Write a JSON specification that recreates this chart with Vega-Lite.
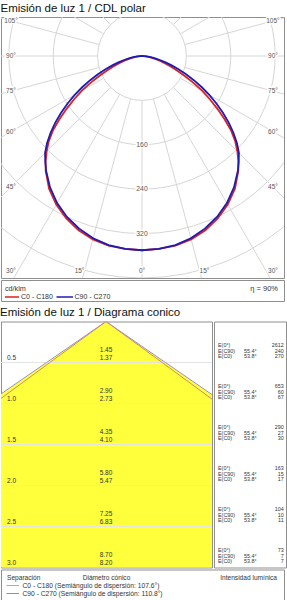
{
  "$schema": "https://vega.github.io/schema/vega-lite/v6.json",
  "background": "white",
  "padding": {"left": 0, "right": 0, "top": 2, "bottom": 0},
  "spacing": 4.5,
  "config": {
    "font": "Liberation Sans",
    "view": {"stroke": "#8f8f8f", "strokeWidth": 1},
    "title": {"fontSize": 11.5, "fontWeight": "normal", "anchor": "start", "offset": 2.5, "color": "#111111", "font": "Liberation Sans"},
    "style": {"group-title": {"fontWeight": "normal", "fontSize": 11.5}},
    "text": {"font": "Liberation Sans"}
  },
  "resolve": {"scale": {"x": "independent", "y": "independent"}},
  "datasets": {
    "rings": [{"r": 80}, {"r": 160}, {"r": 240}, {"r": 320}, {"r": 400}],
    "rays": [
      {"a": -165}, {"a": -150}, {"a": -135}, {"a": -120}, {"a": -105}, {"a": -90},
      {"a": -75}, {"a": -60}, {"a": -45}, {"a": -30}, {"a": -15}, {"a": 0},
      {"a": 15}, {"a": 30}, {"a": 45}, {"a": 60}, {"a": 75}, {"a": 90},
      {"a": 105}, {"a": 120}, {"a": 135}, {"a": 150}, {"a": 165}, {"a": 180}
    ],
    "angleLabels": [
      {"a": -105, "t": "105°"}, {"a": -90, "t": "90°"}, {"a": -75, "t": "75°"},
      {"a": -60, "t": "60°"}, {"a": -45, "t": "45°"}, {"a": -30, "t": "30°"},
      {"a": -15, "t": "15°"}, {"a": 0, "t": "0°"}, {"a": 15, "t": "15°"},
      {"a": 30, "t": "30°"}, {"a": 45, "t": "45°"}, {"a": 60, "t": "60°"},
      {"a": 75, "t": "75°"}, {"a": 90, "t": "90°"}, {"a": 105, "t": "105°"}
    ],
    "intensity": [
      {"g": -90, "c0": 0, "c90": 0},
      {"g": -87.5, "c0": 3, "c90": 4.5},
      {"g": -85, "c0": 6, "c90": 9},
      {"g": -82.5, "c0": 11, "c90": 16},
      {"g": -80, "c0": 17, "c90": 24},
      {"g": -77.5, "c0": 24, "c90": 33},
      {"g": -75, "c0": 33, "c90": 44},
      {"g": -72.5, "c0": 43, "c90": 56},
      {"g": -70, "c0": 55, "c90": 70},
      {"g": -67.5, "c0": 69, "c90": 86},
      {"g": -65, "c0": 85, "c90": 103},
      {"g": -62.5, "c0": 104, "c90": 121},
      {"g": -60, "c0": 125, "c90": 140},
      {"g": -57.5, "c0": 145, "c90": 159},
      {"g": -55, "c0": 166, "c90": 178},
      {"g": -52.5, "c0": 188, "c90": 197},
      {"g": -50, "c0": 210, "c90": 215},
      {"g": -47.5, "c0": 228, "c90": 232},
      {"g": -45, "c0": 243, "c90": 247},
      {"g": -42.5, "c0": 257, "c90": 258},
      {"g": -40, "c0": 270, "c90": 269},
      {"g": -35, "c0": 292, "c90": 289},
      {"g": -30, "c0": 309, "c90": 306},
      {"g": -25, "c0": 323, "c90": 320},
      {"g": -20, "c0": 334, "c90": 331},
      {"g": -15, "c0": 342, "c90": 340},
      {"g": -10, "c0": 347, "c90": 346},
      {"g": -5, "c0": 349, "c90": 349},
      {"g": 0, "c0": 350, "c90": 350},
      {"g": 5, "c0": 349, "c90": 349},
      {"g": 10, "c0": 347, "c90": 346},
      {"g": 15, "c0": 342, "c90": 340},
      {"g": 20, "c0": 334, "c90": 331},
      {"g": 25, "c0": 323, "c90": 320},
      {"g": 30, "c0": 309, "c90": 306},
      {"g": 35, "c0": 292, "c90": 289},
      {"g": 40, "c0": 270, "c90": 269},
      {"g": 42.5, "c0": 257, "c90": 258},
      {"g": 45, "c0": 243, "c90": 247},
      {"g": 47.5, "c0": 228, "c90": 232},
      {"g": 50, "c0": 210, "c90": 215},
      {"g": 52.5, "c0": 188, "c90": 197},
      {"g": 55, "c0": 166, "c90": 178},
      {"g": 57.5, "c0": 145, "c90": 159},
      {"g": 60, "c0": 125, "c90": 140},
      {"g": 62.5, "c0": 104, "c90": 121},
      {"g": 65, "c0": 85, "c90": 103},
      {"g": 67.5, "c0": 69, "c90": 86},
      {"g": 70, "c0": 55, "c90": 70},
      {"g": 72.5, "c0": 43, "c90": 56},
      {"g": 75, "c0": 33, "c90": 44},
      {"g": 77.5, "c0": 24, "c90": 33},
      {"g": 80, "c0": 17, "c90": 24},
      {"g": 82.5, "c0": 11, "c90": 16},
      {"g": 85, "c0": 6, "c90": 9},
      {"g": 87.5, "c0": 3, "c90": 4.5},
      {"g": 90, "c0": 0, "c90": 0}
    ],
    "cone": [
      {"h": 0, "d90": 0, "d0": 0},
      {"h": 0.5, "d90": 1.45, "d0": 1.37},
      {"h": 1, "d90": 2.90, "d0": 2.73},
      {"h": 1.5, "d90": 4.35, "d0": 4.10},
      {"h": 2, "d90": 5.80, "d0": 5.47},
      {"h": 2.5, "d90": 7.25, "d0": 6.83},
      {"h": 3, "d90": 8.70, "d0": 8.20}
    ],
    "illum": [
      {"h": 0.5, "e0": 2612, "e90": 240, "ec0": 270, "a90": 55.4, "a0": 53.8},
      {"h": 1, "e0": 653, "e90": 60, "ec0": 67, "a90": 55.4, "a0": 53.8},
      {"h": 1.5, "e0": 290, "e90": 27, "ec0": 30, "a90": 55.4, "a0": 53.8},
      {"h": 2, "e0": 163, "e90": 15, "ec0": 17, "a90": 55.4, "a0": 53.8},
      {"h": 2.5, "e0": 104, "e90": 10, "ec0": 11, "a90": 55.4, "a0": 53.8},
      {"h": 3, "e0": 73, "e90": 7, "ec0": 7, "a90": 55.4, "a0": 53.8}
    ]
  },
  "vconcat": [
    {
      "title": {"text": "Emisión de luz 1 / CDL polar", "fontWeight": "normal"},
      "spacing": 0,
      "resolve": {"scale": {"x": "independent", "y": "independent"}},
      "vconcat": [
        {
          "width": 283,
          "height": 261,
          "layer": [
            {
              "data": {"name": "rings"},
              "mark": {"type": "point", "shape": "circle", "filled": false, "stroke": "#d6d6d6", "strokeWidth": 1, "opacity": 1, "clip": true},
              "encoding": {
                "x": {"datum": 0, "type": "quantitative", "scale": {"domain": [-254.1, 255.9], "nice": false, "zero": false}, "axis": null},
                "y": {"datum": 0, "type": "quantitative", "scale": {"domain": [-400, 70.3], "nice": false, "zero": false}, "axis": null},
                "size": {"field": "r", "type": "quantitative", "scale": {"type": "pow", "exponent": 2, "domain": [0, 400], "range": [0, 197136], "nice": false}, "legend": null}
              }
            },
            {
              "data": {"name": "rays"},
              "transform": [
                {"calculate": "80*sin(datum.a*PI/180)", "as": "xa"},
                {"calculate": "-80*cos(datum.a*PI/180)", "as": "ya"},
                {"calculate": "700*sin(datum.a*PI/180)", "as": "xb"},
                {"calculate": "-700*cos(datum.a*PI/180)", "as": "yb"}
              ],
              "mark": {"type": "rule", "stroke": "#d6d6d6", "strokeWidth": 1, "clip": true},
              "encoding": {
                "x": {"field": "xa", "type": "quantitative"},
                "y": {"field": "ya", "type": "quantitative"},
                "x2": {"field": "xb"},
                "y2": {"field": "yb"}
              }
            },
            {
              "data": {"name": "rings"},
              "transform": [
                {"filter": "datum.r >= 160 && datum.r <= 320"},
                {"calculate": "-datum.r", "as": "ly"}
              ],
              "mark": {"type": "text", "fontSize": 6.8, "stroke": "white", "strokeWidth": 3, "color": "white"},
              "encoding": {
                "x": {"datum": 0, "type": "quantitative"},
                "y": {"field": "ly", "type": "quantitative"},
                "text": {"field": "r"}
              }
            },
            {
              "data": {"name": "rings"},
              "transform": [
                {"filter": "datum.r >= 160 && datum.r <= 320"},
                {"calculate": "-datum.r", "as": "ly"}
              ],
              "mark": {"type": "text", "fontSize": 6.8, "color": "#555555"},
              "encoding": {
                "x": {"datum": 0, "type": "quantitative"},
                "y": {"field": "ly", "type": "quantitative"},
                "text": {"field": "r"}
              }
            },
            {
              "data": {"name": "angleLabels"},
              "transform": [
                {"calculate": "abs(datum.a)", "as": "aa"},
                {"calculate": "datum.a < 0 ? -1 : 1", "as": "s"},
                {"calculate": "datum.aa >= 30 ? datum.s*236 : datum.s*420*tan(datum.aa*PI/180)", "as": "lx"},
                {"calculate": "datum.aa >= 45 ? -236/tan(datum.aa*PI/180) : -387", "as": "ly"}
              ],
              "mark": {"type": "text", "fontSize": 6.5, "stroke": "white", "strokeWidth": 3, "color": "white"},
              "encoding": {
                "x": {"field": "lx", "type": "quantitative"},
                "y": {"field": "ly", "type": "quantitative"},
                "text": {"field": "t"}
              }
            },
            {
              "data": {"name": "angleLabels"},
              "transform": [
                {"calculate": "abs(datum.a)", "as": "aa"},
                {"calculate": "datum.a < 0 ? -1 : 1", "as": "s"},
                {"calculate": "datum.aa >= 30 ? datum.s*236 : datum.s*420*tan(datum.aa*PI/180)", "as": "lx"},
                {"calculate": "datum.aa >= 45 ? -236/tan(datum.aa*PI/180) : -387", "as": "ly"}
              ],
              "mark": {"type": "text", "fontSize": 6.5, "color": "#555555"},
              "encoding": {
                "x": {"field": "lx", "type": "quantitative"},
                "y": {"field": "ly", "type": "quantitative"},
                "text": {"field": "t"}
              }
            },
            {
              "data": {"name": "intensity"},
              "transform": [
                {"calculate": "datum.c0*sin(datum.g*PI/180)", "as": "px"},
                {"calculate": "-datum.c0*cos(datum.g*PI/180)", "as": "py"}
              ],
              "mark": {"type": "line", "color": "#dd2020", "strokeWidth": 1.8, "clip": true},
              "encoding": {
                "x": {"field": "px", "type": "quantitative"},
                "y": {"field": "py", "type": "quantitative"},
                "order": {"field": "g", "type": "quantitative"}
              }
            },
            {
              "data": {"name": "intensity"},
              "transform": [
                {"calculate": "datum.c90*sin(datum.g*PI/180)", "as": "px"},
                {"calculate": "-datum.c90*cos(datum.g*PI/180)", "as": "py"}
              ],
              "mark": {"type": "line", "color": "#1c1cb4", "strokeWidth": 1.8, "clip": true},
              "encoding": {
                "x": {"field": "px", "type": "quantitative"},
                "y": {"field": "py", "type": "quantitative"},
                "order": {"field": "g", "type": "quantitative"}
              }
            }
          ]
        },
        {
          "width": 283,
          "height": 21,
          "layer": [
            {
              "data": {"values": [{"t": "cd/klm"}]},
              "mark": {"type": "text", "align": "left", "baseline": "middle", "fontSize": 7.2, "color": "#333333"},
              "encoding": {
                "x": {"datum": 4, "type": "quantitative", "scale": {"domain": [0, 283], "nice": false, "zero": false}, "axis": null},
                "y": {"datum": 8.7, "type": "quantitative", "scale": {"domain": [0, 21], "reverse": true, "nice": false, "zero": false}, "axis": null},
                "text": {"field": "t"}
              }
            },
            {
              "data": {"values": [{"t": "η = 90%"}]},
              "mark": {"type": "text", "align": "right", "baseline": "middle", "fontSize": 7.5, "color": "#333333"},
              "encoding": {
                "x": {"datum": 277, "type": "quantitative"},
                "y": {"datum": 8.7, "type": "quantitative"},
                "text": {"field": "t"}
              }
            },
            {
              "data": {"values": [{"s": "C0 - C180"}]},
              "mark": {"type": "rule", "color": "#dd2020", "strokeWidth": 1.5},
              "encoding": {
                "x": {"datum": 4, "type": "quantitative"},
                "x2": {"datum": 18},
                "y": {"datum": 17, "type": "quantitative"}
              }
            },
            {
              "data": {"values": [{"s": "C90 - C270"}]},
              "mark": {"type": "rule", "color": "#1c1cb4", "strokeWidth": 1.5},
              "encoding": {
                "x": {"datum": 55.5, "type": "quantitative"},
                "x2": {"datum": 72},
                "y": {"datum": 17, "type": "quantitative"}
              }
            },
            {
              "data": {"values": [{"s": "C0 - C180"}]},
              "mark": {"type": "text", "align": "left", "baseline": "middle", "fontSize": 7, "color": "#333333"},
              "encoding": {
                "x": {"datum": 20, "type": "quantitative"},
                "y": {"datum": 17, "type": "quantitative"},
                "text": {"field": "s"}
              }
            },
            {
              "data": {"values": [{"s": "C90 - C270"}]},
              "mark": {"type": "text", "align": "left", "baseline": "middle", "fontSize": 7, "color": "#333333"},
              "encoding": {
                "x": {"datum": 73.5, "type": "quantitative"},
                "y": {"datum": 17, "type": "quantitative"},
                "text": {"field": "s"}
              }
            }
          ]
        }
      ]
    },
    {
      "title": {"text": "Emisión de luz 1 / Diagrama conico", "fontWeight": "normal"},
      "spacing": 0,
      "resolve": {"scale": {"x": "independent", "y": "independent"}},
      "vconcat": [
        {
          "spacing": 0,
          "resolve": {"scale": {"x": "independent", "y": "independent"}},
          "hconcat": [
            {
              "width": 211,
              "height": 246,
              "data": {"name": "cone"},
              "layer": [
                {
                  "transform": [
                    {"calculate": "-datum.d90/2", "as": "xl"},
                    {"calculate": "datum.d90/2", "as": "xr"}
                  ],
                  "mark": {"type": "area", "orient": "horizontal", "color": "#ffff3c", "opacity": 1, "clip": true},
                  "encoding": {
                    "y": {"field": "h", "type": "quantitative", "scale": {"domain": [0, 3], "reverse": true, "nice": false, "zero": false}, "axis": null},
                    "x": {"field": "xl", "type": "quantitative", "scale": {"domain": [-1.2805, 1.2927], "nice": false, "zero": false}, "axis": null},
                    "x2": {"field": "xr"}
                  }
                },
                {
                  "transform": [{"filter": "datum.h > 0 && datum.h < 3"}],
                  "mark": {"type": "rule", "color": "#e4e4e4", "strokeWidth": 1},
                  "encoding": {"y": {"field": "h", "type": "quantitative"}}
                },
                {
                  "transform": [
                    {"fold": ["d90", "d0"], "as": ["plane", "d"]},
                    {"calculate": "-datum.d/2", "as": "xe"}
                  ],
                  "mark": {"type": "line", "strokeWidth": 1, "clip": true},
                  "encoding": {
                    "x": {"field": "xe", "type": "quantitative"},
                    "y": {"field": "h", "type": "quantitative"},
                    "color": {"field": "plane", "type": "nominal", "scale": {"domain": ["d0", "d90"], "range": ["#d4896e", "#9090d8"]}, "legend": null},
                    "order": {"field": "h", "type": "quantitative"}
                  }
                },
                {
                  "transform": [
                    {"fold": ["d90", "d0"], "as": ["plane", "d"]},
                    {"calculate": "datum.d/2", "as": "xe"}
                  ],
                  "mark": {"type": "line", "strokeWidth": 1, "clip": true},
                  "encoding": {
                    "x": {"field": "xe", "type": "quantitative"},
                    "y": {"field": "h", "type": "quantitative"},
                    "color": {"field": "plane", "type": "nominal", "scale": {"domain": ["d0", "d90"], "range": ["#d4896e", "#9090d8"]}, "legend": null},
                    "order": {"field": "h", "type": "quantitative"}
                  }
                },
                {
                  "transform": [
                    {"filter": "datum.h > 0"},
                    {"calculate": "format(datum.h, '.1f')", "as": "sep"}
                  ],
                  "mark": {"type": "text", "align": "left", "baseline": "alphabetic", "fontSize": 6.5, "dx": 6, "dy": -3, "color": "#333333"},
                  "encoding": {
                    "x": {"datum": -1.2805, "type": "quantitative"},
                    "y": {"field": "h", "type": "quantitative"},
                    "text": {"field": "sep"}
                  }
                },
                {
                  "transform": [
                    {"filter": "datum.h > 0"},
                    {"calculate": "format(datum.d90, '.2f') + '\\n' + format(datum.d0, '.2f')", "as": "diam"}
                  ],
                  "mark": {"type": "text", "align": "center", "baseline": "alphabetic", "lineBreak": "\n", "lineHeight": 7.5, "fontSize": 6.5, "dy": -10.5, "color": "#333333"},
                  "encoding": {
                    "x": {"datum": 0, "type": "quantitative"},
                    "y": {"field": "h", "type": "quantitative"},
                    "text": {"field": "diam"}
                  }
                }
              ]
            },
            {
              "width": 72,
              "height": 246,
              "data": {"name": "illum"},
              "layer": [
                {
                  "mark": {"type": "text", "align": "left", "baseline": "alphabetic", "lineBreak": "\n", "lineHeight": 5.7, "fontSize": 5.4, "dy": -15.5, "color": "#333333"},
                  "encoding": {
                    "x": {"datum": 4, "type": "quantitative", "scale": {"domain": [0, 72], "nice": false, "zero": false}, "axis": null},
                    "y": {"field": "h", "type": "quantitative", "scale": {"domain": [0, 3], "reverse": true, "nice": false, "zero": false}, "axis": null},
                    "text": {"value": "E(0°)\nE(C90)\nE(C0)"}
                  }
                },
                {
                  "transform": [
                    {"calculate": "'\\n' + format(datum.a90, '.1f') + '°\\n' + format(datum.a0, '.1f') + '°'", "as": "ang"}
                  ],
                  "mark": {"type": "text", "align": "left", "baseline": "alphabetic", "lineBreak": "\n", "lineHeight": 5.7, "fontSize": 5.4, "dy": -15.5, "color": "#333333"},
                  "encoding": {
                    "x": {"datum": 30, "type": "quantitative"},
                    "y": {"field": "h", "type": "quantitative"},
                    "text": {"field": "ang"}
                  }
                },
                {
                  "transform": [
                    {"calculate": "datum.e0 + '\\n' + datum.e90 + '\\n' + datum.ec0", "as": "vals"}
                  ],
                  "mark": {"type": "text", "align": "right", "baseline": "alphabetic", "lineBreak": "\n", "lineHeight": 5.7, "fontSize": 5.4, "dy": -15.5, "color": "#333333"},
                  "encoding": {
                    "x": {"datum": 69.7, "type": "quantitative"},
                    "y": {"field": "h", "type": "quantitative"},
                    "text": {"field": "vals"}
                  }
                }
              ]
            }
          ]
        },
        {
          "width": 283,
          "height": 35,
          "layer": [
            {
              "data": {"values": [{"t": "Separación"}]},
              "mark": {"type": "text", "align": "left", "baseline": "middle", "fontSize": 6.6, "color": "#333333"},
              "encoding": {
                "x": {"datum": 6, "type": "quantitative", "scale": {"domain": [0, 283], "nice": false, "zero": false}, "axis": null},
                "y": {"datum": 8, "type": "quantitative", "scale": {"domain": [0, 35], "reverse": true, "nice": false, "zero": false}, "axis": null},
                "text": {"field": "t"}
              }
            },
            {
              "data": {"values": [{"t": "Diámetro cónico"}]},
              "mark": {"type": "text", "align": "center", "baseline": "middle", "fontSize": 6.6, "color": "#333333"},
              "encoding": {
                "x": {"datum": 105.5, "type": "quantitative"},
                "y": {"datum": 8, "type": "quantitative"},
                "text": {"field": "t"}
              }
            },
            {
              "data": {"values": [{"t": "Intensidad lumínica"}]},
              "mark": {"type": "text", "align": "right", "baseline": "middle", "fontSize": 6.6, "color": "#333333"},
              "encoding": {
                "x": {"datum": 276, "type": "quantitative"},
                "y": {"datum": 8, "type": "quantitative"},
                "text": {"field": "t"}
              }
            },
            {
              "data": {"values": [{"s": "C0 - C180 (Semiángulo de dispersión: 107.6°)"}]},
              "mark": {"type": "rule", "color": "#e09a88", "strokeWidth": 1},
              "encoding": {
                "x": {"datum": 5.5, "type": "quantitative"},
                "x2": {"datum": 18},
                "y": {"datum": 16, "type": "quantitative"}
              }
            },
            {
              "data": {"values": [{"s": "C90 - C270 (Semiángulo de dispersión: 110.8°)"}]},
              "mark": {"type": "rule", "color": "#8a8ae0", "strokeWidth": 1},
              "encoding": {
                "x": {"datum": 5.5, "type": "quantitative"},
                "x2": {"datum": 18},
                "y": {"datum": 24, "type": "quantitative"}
              }
            },
            {
              "data": {"values": [{"s": "C0 - C180 (Semiángulo de dispersión: 107.6°)"}]},
              "mark": {"type": "text", "align": "left", "baseline": "middle", "fontSize": 6.7, "color": "#333333"},
              "encoding": {
                "x": {"datum": 21.5, "type": "quantitative"},
                "y": {"datum": 16, "type": "quantitative"},
                "text": {"field": "s"}
              }
            },
            {
              "data": {"values": [{"s": "C90 - C270 (Semiángulo de dispersión: 110.8°)"}]},
              "mark": {"type": "text", "align": "left", "baseline": "middle", "fontSize": 6.7, "color": "#333333"},
              "encoding": {
                "x": {"datum": 21.5, "type": "quantitative"},
                "y": {"datum": 24, "type": "quantitative"},
                "text": {"field": "s"}
              }
            }
          ]
        }
      ]
    }
  ]
}
